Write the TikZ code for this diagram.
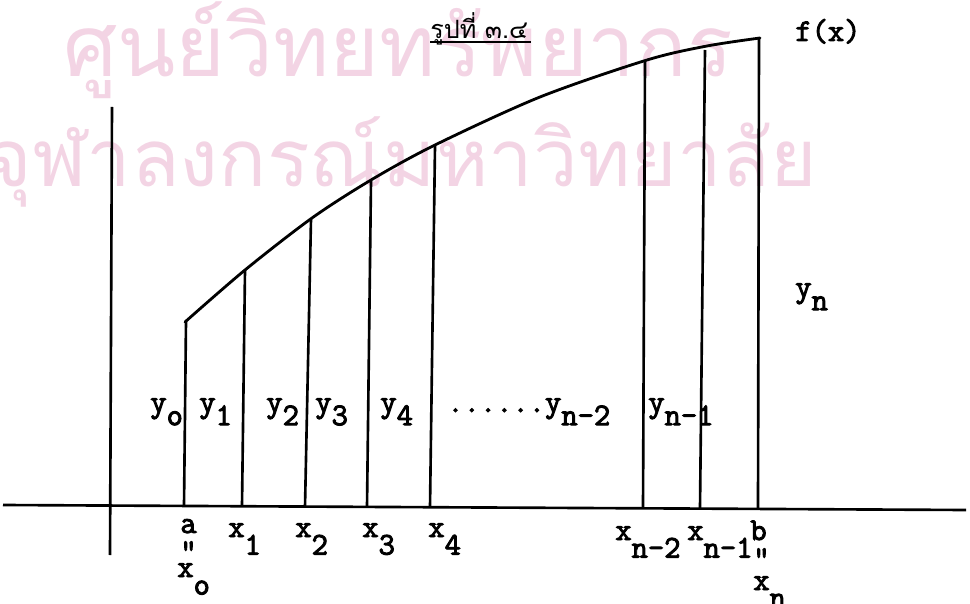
\documentclass[tikz,border=0pt]{standalone}
\usepackage{fontspec}
\usetikzlibrary{calc}
\newfontfamily\thaifont[Script=Thai]{Loma}
\newfontfamily\labfont{Latin Modern Mono}[FakeBold=3]
\definecolor{wmpink}{RGB}{243,212,228}
\tikzset{
  curveline/.style={line width=1.6pt, line cap=round},
  ordline/.style={line width=1.5pt},
  axisline/.style={line width=1.5pt},
  lab/.style={inner sep=0pt, anchor=base west, font=\labfont\bfseries\fontsize{18}{18}\selectfont},
  wm/.style={inner sep=0pt, anchor=base west, text=wmpink, font=\thaifont\fontsize{60}{60}\selectfont},
  ttl/.style={inner sep=0pt, anchor=base west, font=\thaifont\fontsize{13}{13}\selectfont},
}
\newcommand{\ysb}[2]{#1\raisebox{-7.5pt}{#2}}
\newcommand{\xsb}[2]{#1\raisebox{-10pt}{#2}}
\begin{document}
\begin{tikzpicture}[x=0.02cm,y=-0.02cm]
\useasboundingbox (0,0) rectangle (970,604);
% watermark
\node[wm] (wmone) at (63,77) {\resizebox{13.4cm}{!}{ศูนย์วิทยทรัพยากร}};
\node[wm] (wmtwo) at (-15,187) {\resizebox{16.64cm}{!}{จุฬาลงกรณ์มหาวิทยาลัย}};
% title
\node[ttl] (title) at (430,39) {\resizebox{1.96cm}{!}{รูปที่ ๓.๔}};
\draw[line width=1pt] ($(title.base west)+(0,3)$) -- ($(title.base east)+(2,3)$);
% axes
\coordinate (hl) at (3,505);
\coordinate (hr) at (966,510);
\draw[axisline] (hl) -- (hr);
\coordinate (vt) at (112,107);
\coordinate (vb) at (110,555);
\draw[axisline] (vb) -- (vt);
% curve
\draw[curveline] plot[smooth, tension=0.5] coordinates {(185,322) (245,270) (312,218) (371,180) (435,145) (540,97) (647,60) (707,46) (760,38)};
% ordinates
\foreach \bx/\by/\tx/\ty in {184/506/186/321, 242/506/245/270, 305/507/311/219, 367/507/371/181, 430/507/435/146, 643/508/645/61, 700/508/705/50, 758/509/759/38} {
  \draw[ordline] (\bx,\by) -- (\tx,\ty);
}
% y labels
\node[lab] (yo) at (150,412) {\ysb{y}{o}};
\node[lab] (yone) at (199,412) {\ysb{y}{1}};
\node[lab] (ytwo) at (266,412) {\ysb{y}{2}};
\node[lab] (ythree) at (315,412) {\ysb{y}{3}};
\node[lab] (yfour) at (380,412) {\ysb{y}{4}};
\node[lab] (ynm2) at (447,412) {\ysb{......y}{n-2}};
\node[lab] (ynm1) at (648,412) {\ysb{y}{n-1}};
\node[lab] (yn) at (795,297) {\ysb{y}{n}};
\node[lab] (fx) at (795,41) {f(x)};
% x labels
\node[lab] (la) at (180,533) {a};
\node[lab] (dita) at (180,561) {"};
\node[lab] (xo) at (177,577) {\xsb{x}{o}};
\node[lab] (xone) at (228,537) {\xsb{x}{1}};
\node[lab] (xtwo) at (295,537) {\xsb{x}{2}};
\node[lab] (xthree) at (362,537) {\xsb{x}{3}};
\node[lab] (xfour) at (428,537) {\xsb{x}{4}};
\node[lab] (xnm2) at (615,540) {\xsb{x}{n-2}};
\node[lab] (xnm1) at (687,540) {\xsb{x}{n-1}};
\node[lab] (lb) at (750,540) {b};
\node[lab] (ditb) at (753,568) {"};
\node[lab] (xn) at (753,590) {\xsb{x}{n}};
\end{tikzpicture}
\end{document}
